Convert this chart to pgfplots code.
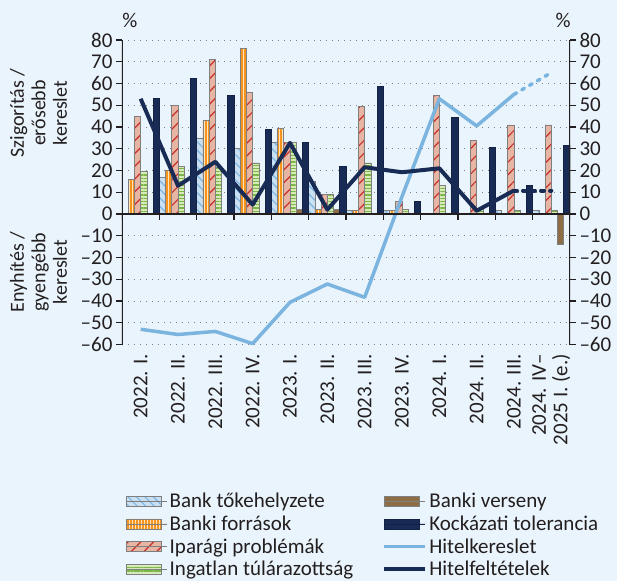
\documentclass[border=0pt]{standalone}
\usepackage{fontspec}
\setmainfont{Carlito}
\usepackage{pgfplots}
\pgfplotsset{compat=1.18}
\usetikzlibrary{patterns.meta}

\definecolor{bgc}{HTML}{EAF4FC}
\definecolor{txt}{HTML}{231F20}
\definecolor{outl}{HTML}{7F7F7F}
\definecolor{blueF}{HTML}{C9DFF2}
\definecolor{blueL}{HTML}{7EB6E2}
\definecolor{orangeF}{HTML}{F7941D}
\definecolor{orangeL}{HTML}{FFE3BC}
\definecolor{pinkF}{HTML}{E6B5A3}
\definecolor{pinkL}{HTML}{C8302C}
\definecolor{greenF}{HTML}{D8EAB8}
\definecolor{greenL}{HTML}{7AB648}
\definecolor{brownF}{HTML}{8C6D46}
\definecolor{navy}{HTML}{182B55}
\definecolor{lightl}{HTML}{7AB4DF}

\pgfplotsset{
  barleg/.style={legend image code/.code={%
    \draw[##1,/tikz/.cd,bar shift=0pt] (0pt,-5pt) rectangle (35pt,5pt);
    \path (0pt,0pt) -- (41pt,0pt);}},
  lineleg/.style={legend image code/.code={%
    \draw[##1,line width=3pt] (0pt,0pt) -- (35pt,0pt);
    \path (0pt,0pt) -- (41pt,0pt);}},
  bars/.style={ybar, bar width=6.22pt, draw=outl, line width=0.6pt, barleg},
  frame/.style={at={(0pt,0pt)}, anchor=south west, scale only axis,
    width=448pt, height=304.5pt,
    xmin=-0.5, xmax=11.5, ymin=-60, ymax=80,
    axis line style={draw=none},
    ytick={-60,-50,...,80},
    yticklabels={–60,–50,–40,–30,–20,–10,0,10,20,30,40,50,60,70,80},
    tick align=outside, major tick length=6pt,
    ytick style={txt, line width=1.2pt},
    tick label style={font=\fontsize{21}{21.5}\selectfont, text=txt}},
}

\begin{document}
\begin{tikzpicture}
\path[fill=bgc,use as bounding box] (-122pt,-236.5pt) rectangle (495pt,344.5pt);

\begin{axis}[frame,
  ytick pos=left,
  xtick={0,...,11},
  xticklabels={{2022. I.},{2022. II.},{2022. III.},{2022. IV.},{2023. I.},{2023. II.},
    {2023. III.},{2023. IV.},{2024. I.},{2024. II.},{2024. III.},{2024. IV–\\2025 I. (e.)}},
  xtick style={draw=none},
  x tick label style={rotate=90, anchor=east, align=right},
  ymajorgrids, grid style={gray, line width=1pt, dash pattern=on 1pt off 5pt},
  legend style={at={(0.002,-0.475)}, anchor=north west, draw=none, fill=none,
    font=\fontsize{21}{22}\selectfont, text=txt, row sep=2.5pt,
    /tikz/every even column/.append style={column sep=27pt}},
  legend columns=4, transpose legend, legend cell align=left,
]
% Bank tőkehelyzete
\addplot[bars, bar shift=-15.55pt, fill=blueF,
  postaction={pattern={Lines[angle=-45,distance=6pt,line width=1.2pt]}, pattern color=blueL}]
  coordinates {(0,0) (1,17) (2,35) (3,30) (4,33) (5,15) (6,1.5) (7,1.5) (8,0) (9,0) (10,1.5) (11,1.5)};
\addlegendentry{Bank tőkehelyzete}
% Banki források
\addplot[bars, bar shift=-9.33pt, fill=orangeF,
  postaction={pattern={Lines[angle=90,distance=3pt,line width=0.9pt]}, pattern color=orangeL}]
  coordinates {(0,16) (1,20) (2,43) (3,76) (4,39.5) (5,2.3) (6,1.5) (7,1.5) (8,0) (9,0) (10,0) (11,0)};
\addlegendentry{Banki források}
% Iparági problémák
\addplot[bars, bar shift=-3.11pt, fill=pinkF,
  postaction={pattern={Lines[angle=45,distance=9pt,line width=1.2pt]}, pattern color=pinkL}]
  coordinates {(0,45) (1,50) (2,71) (3,56) (4,33) (5,9) (6,49.5) (7,5.7) (8,54.5) (9,34) (10,41) (11,41)};
\addlegendentry{Iparági problémák}
% Ingatlan túlárazottság
\addplot[bars, bar shift=3.11pt, fill=greenF,
  postaction={pattern={Lines[angle=0,distance=3.3pt,line width=1.3pt]}, pattern color=greenL}]
  coordinates {(0,19.5) (1,22) (2,21.5) (3,23.5) (4,33) (5,9) (6,23.5) (7,2) (8,13) (9,2) (10,1.5) (11,1.5)};
\addlegendentry{Ingatlan túlárazottság}
% Banki verseny
\addplot[bars, bar shift=9.33pt, fill=brownF]
  coordinates {(0,0) (1,0) (2,0) (3,0) (4,2) (5,2) (6,0) (7,0) (8,0) (9,0) (10,0) (11,-14)};
\addlegendentry{Banki verseny}
% Kockázati tolerancia
\addplot[bars, bar shift=15.55pt, fill=navy, draw=navy!80!black]
  coordinates {(0,53) (1,62.5) (2,54.5) (3,39) (4,33) (5,22) (6,58.5) (7,5.7) (8,44.5) (9,30.7) (10,13.2) (11,31.6)};
\addlegendentry{Kockázati tolerancia}
% Hitelkereslet
\addplot[lightl, line width=3.5pt, line join=round, lineleg]
  coordinates {(0,-53) (1,-55.4) (2,-54) (3,-59.6) (4,-40.6) (5,-32.2) (6,-38.3) (7,8) (8,53) (9,40.5) (10,55)};
\addlegendentry{Hitelkereslet}
% Hitelfeltételek
\addplot[navy, line width=4pt, line join=round, lineleg]
  coordinates {(0,53) (1,13) (2,24) (3,4.3) (4,32.7) (5,2) (6,21.5) (7,19.2) (8,21) (9,1.5) (10,10.8)};
\addlegendentry{Hitelfeltételek}
% becslés
\addplot[lightl, line width=3.5pt, line cap=round, dash pattern=on 3pt off 6pt, forget plot]
  coordinates {(10,55) (11,65)};
\addplot[navy, line width=4pt, line cap=round, dash pattern=on 3pt off 6pt, forget plot]
  coordinates {(10,10.8) (11,10.8)};

\draw[txt, line width=1.3pt] (rel axis cs:0,0) -- (rel axis cs:0,1);
\draw[txt, line width=1.3pt] (axis cs:-0.5,0) -- (axis cs:11.5,0);
\pgfplotsinvokeforeach{-0.5,0.5,...,11.5}{
  \draw[txt, line width=1.3pt] (axis cs:#1,0) -- ++(0pt,-6pt);
}
\end{axis}

\begin{axis}[frame, hide x axis, ytick pos=right, yticklabel pos=right]
\addplot[draw=none] coordinates {(0,0)};
\draw[txt, line width=1.3pt] (rel axis cs:1,0) -- (rel axis cs:1,1);
\end{axis}

\begin{scope}[text=txt]
\node[font=\fontsize{21}{21.5}\selectfont] at (8pt,324.5pt) {\%};
\node[font=\fontsize{21}{21.5}\selectfont] at (441pt,324.5pt) {\%};
\node[rotate=90, align=center, font=\fontsize{20}{21.5}\selectfont] at (-83.5pt,231.5pt) {Szigorítás /\\erősebb\\kereslet};
\node[rotate=90, align=center, font=\fontsize{20}{21.5}\selectfont] at (-83.5pt,72.5pt) {Enyhítés /\\gyengébb\\kereslet};
\end{scope}
\end{tikzpicture}
\end{document}
